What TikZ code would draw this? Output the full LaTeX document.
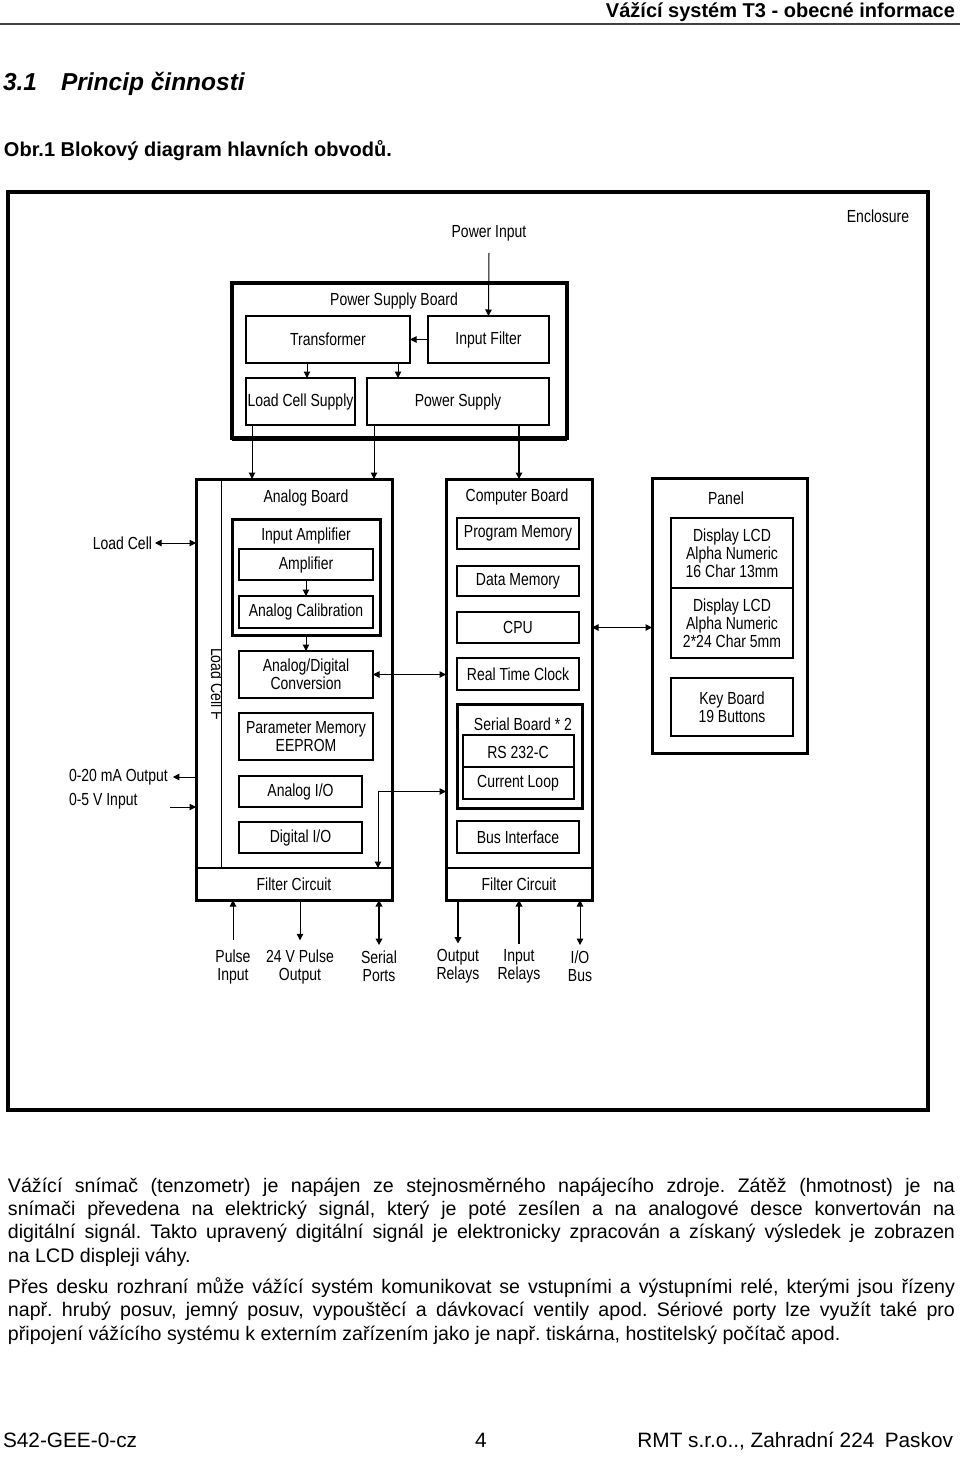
\documentclass[tikz,border=0pt]{standalone}
\usepackage{fontspec}
\setmainfont{Liberation Sans}
\newfontfamily\dfont[FakeStretch=0.8]{Liberation Sans}
\usetikzlibrary{arrows.meta}
\begin{document}
\begin{tikzpicture}[x=1pt,y=-1pt,
  every node/.style={inner sep=0pt, outer sep=0pt},
  dtext/.style={font=\dfont\fontsize{17.5}{18}\selectfont, align=center},
  box/.style n args={2}{draw, line width=1.6pt, minimum width=#1pt, minimum height=#2pt, dtext},
  bigbox/.style n args={2}{draw, line width=3pt, minimum width=#1pt, minimum height=#2pt},
  arr/.style={-{Triangle[length=6.5pt,width=6.5pt]}, line width=1pt},
  darr/.style={{Triangle[length=6.5pt,width=6.5pt]}-{Triangle[length=6.5pt,width=6.5pt]}, line width=1pt},
  bodyfont/.style={font=\fontsize{19.6}{23.4}\selectfont}
]
\useasboundingbox (0,0) rectangle (960,1457);
\fill[white] (0,0) rectangle (960,1457);

% ---------- page header ----------
\node[anchor=base east, font=\bfseries\fontsize{20}{24}\selectfont] (hdr) at (955,17) {Vážící systém T3 - obecné informace};
\draw[line width=2pt, black!75] (0,24) -- (960,24);
\node[anchor=base west, font=\bfseries\itshape\fontsize{24.5}{28}\selectfont] (secnum) at (3,90) {3.1};
\node[anchor=base west, font=\bfseries\itshape\fontsize{24.5}{28}\selectfont] (sectit) at (61,90) {Princip činnosti};
\node[anchor=base west, font=\bfseries\fontsize{20}{24}\selectfont] (figcap) at (4,156) {Obr.1 Blokový diagram hlavních obvodů.};

% ---------- enclosure ----------
\node[draw, line width=3.5pt, minimum width=920pt, minimum height=918pt] (encl) at (468,651) {};
\node[dtext] (encll) at (878,216) {Enclosure};
\node[dtext] (pin) at (489,233) {Power Input};

% ---------- power supply board ----------
\node[draw, line width=3.5pt, minimum width=335pt, minimum height=155pt] (psb) at (399.5,360.5) {};
\draw[line width=2pt] ([yshift=-1.5pt]psb.south west) -- ([yshift=-1.5pt]psb.south east);
\node[dtext] (psbl) at (394,301) {Power Supply Board};
\node[box={164}{47}] (trans) at (328,339.5) {Transformer};
\node[box={121}{47}] (inf) at (488.5,339.5) {Input Filter};
\node[box={109}{47}] (lcs) at (300.5,401.5) {Load Cell Supply};
\node[box={182}{47}] (ps) at (458,401.5) {Power Supply};

% ---------- analog board ----------
\node[bigbox={196}{421}] (ab) at (294,689.5) {};
\node[dtext] (abl) at (306,498) {Analog Board};
\node[dtext, minimum width=196pt, minimum height=32pt] (afc) at (294,884) {Filter Circuit};
\draw[line width=1.2pt] (afc.north west) -- (afc.north east);
\draw[line width=1pt] ([xshift=25pt]ab.north west) -- ([xshift=25pt]afc.north west);
\begin{scope}
  \clip (197,630) rectangle (221,740);
  \node[dtext, rotate=-90, anchor=south] (lcf) at (211,684) {Load Cell F};
\end{scope}
\node[bigbox={148}{116}] (inamp) at (306,577) {};
\node[dtext] (inampl) at (306,536) {Input Amplifier};
\node[box={134}{31}] (amp) at (306,564.5) {Amplifier};
\node[box={134}{32}] (acal) at (306,612) {Analog Calibration};
\node[box={134}{47}] (adc) at (306,674.5) {Analog/Digital\\Conversion};
\node[box={134}{47}] (pmem) at (306,736.5) {Parameter Memory\\EEPROM};
\node[box={123}{31}] (aio) at (300.5,791.5) {Analog I/O};
\node[box={123}{31}] (dio) at (300.5,837.5) {Digital I/O};

% ---------- computer board ----------
\node[bigbox={146}{421}] (cb) at (519,689.5) {};
\node[dtext] (cbl) at (517,497) {Computer Board};
\node[box={122}{31}] (prog) at (518,533.5) {Program Memory};
\node[box={122}{30}] (dmem) at (518,581) {Data Memory};
\node[box={122}{31}] (cpu) at (518,627.5) {CPU};
\node[box={122}{32}] (rtc) at (518,674) {Real Time Clock};
\node[bigbox={125}{104}] (serb) at (519.5,756) {};
\node[dtext] (serbl) at (523,724) {Serial Board * 2};
\node[draw, line width=1.6pt, minimum width=111pt, minimum height=64pt] (rs) at (518.5,767) {};
\draw[line width=1.4pt] (rs.west) -- (rs.east);
\node[dtext] (rsl) at (518,752) {RS 232-C};
\node[dtext] (cll) at (518,783) {Current Loop};
\node[box={122}{32}] (bus) at (518,837) {Bus Interface};
\node[dtext, minimum width=146pt, minimum height=32pt] (cfc) at (519,884) {Filter Circuit};
\draw[line width=1.2pt] (cfc.north west) -- (cfc.north east);

% ---------- panel ----------
\node[bigbox={155}{275}] (pn) at (729.5,615.5) {};
\node[dtext] (pnl) at (726,498) {Panel};
\node[box={122}{70}] (lcd1) at (732,553) {Display LCD\\Alpha Numeric\\16 Char 13mm};
\node[box={122}{70}] (lcd2) at (732,623) {Display LCD\\Alpha Numeric\\2*24 Char 5mm};
\node[box={122}{58}] (kb) at (732,707) {Key Board\\19 Buttons};

% ---------- side labels ----------
\node[dtext, anchor=east] (lc) at (152,543) {Load Cell};
\node[dtext, anchor=west] (ma) at (69,777) {0-20 mA Output};
\node[dtext, anchor=west] (vin) at (69,801) {0-5 V Input};
\node[dtext] (pi) at (233,966.5) {Pulse\\Input};
\node[dtext] (po) at (300,966.5) {24 V Pulse\\Output};
\node[dtext] (sp) at (379,966.5) {Serial\\Ports};
\node[dtext] (orl) at (458,966.5) {Output\\Relays};
\node[dtext] (irl) at (519,966.5) {Input\\Relays};
\node[dtext] (iob) at (580,966.5) {I/O\\Bus};

% ---------- connectors ----------
\draw[arr] ([yshift=-12pt]pin.south) -- (inf.north);
\draw[arr] (inf.west) -- (trans.east);
\draw[arr] ([xshift=6.5pt]lcs.north |- trans.south) -- ([xshift=6.5pt]lcs.north);
\draw[arr] ([xshift=70pt]trans.south) -- ([xshift=70pt]trans.south |- ps.north);
\draw[arr] ([xshift=6pt]lcs.south west) -- ([xshift=6pt]lcs.south west |- ab.north);
\draw[arr] ([xshift=7pt]ps.south west) -- ([xshift=7pt]ps.south west |- ab.north);
\draw[arr, line width=2pt] (ps.south -| cb.north) -- (cb.north);

\draw[darr] ([xshift=3pt]lc.east) -- (lc.east -| ab.west);
\draw[arr] (ma.east -| ab.west) -- ([xshift=5pt]ma.east);
\draw[arr] ([xshift=33pt,yshift=-6pt]vin.east) -- ([yshift=-6pt]vin.east -| ab.west);
\draw[arr] (amp) -- (acal);
\draw[arr] (inamp.south) -- (adc.north);
\draw[darr] (adc.east) -- (adc.east -| cb.west);
\draw[darr] ([xshift=-14pt]afc.north east) |- (cb.west |- aio);
\draw[darr] (cb.east |- cpu) -- (pn.west |- cpu);

\draw[arr] ([yshift=9pt]pi.north) -- (pi.north |- ab.south);
\draw[arr] (po.north |- ab.south) -- ([yshift=9pt]po.north);
\draw[darr, line width=2pt] (sp.north |- ab.south) -- ([yshift=6pt]sp.north);
\draw[arr, line width=2pt] (orl.north |- cb.south) -- ([yshift=6pt]orl.north);
\draw[arr, line width=2pt] ([yshift=6pt]irl.north) -- (irl.north |- cb.south);
\draw[darr] (iob.north |- cb.south) -- ([yshift=6pt]iob.north);

% ---------- body text ----------
\node[anchor=base west, bodyfont] (body) at (8,1192) {\parbox[t]{947pt}{\frenchspacing\setlength{\parskip}{7.6pt}\setlength{\parindent}{0pt}%
Vážící snímač (tenzometr) je napájen ze stejnosměrného napájecího zdroje. Zátěž (hmotnost) je na\linebreak
snímači převedena na elektrický signál, který je poté zesílen a na analogové desce konvertován na\linebreak
digitální signál. Takto upravený digitální signál je elektronicky zpracován a získaný výsledek je zobrazen\linebreak
na LCD displeji váhy.\par
Přes desku rozhraní může vážící systém komunikovat se vstupními a výstupními relé, kterými jsou řízeny\linebreak
např. hrubý posuv, jemný posuv, vypouštěcí a dávkovací ventily apod. Sériové porty lze využít také pro\linebreak
připojení vážícího systému k externím zařízením jako je např. tiskárna, hostitelský počítač apod.}};

% ---------- footer ----------
\node[anchor=base west, font=\fontsize{20.8}{24}\selectfont] (f1) at (3,1447) {S42-GEE-0-cz};
\node[anchor=base, font=\fontsize{20.8}{24}\selectfont] (f2) at (481,1447) {4};
\node[anchor=base east, font=\fontsize{20.8}{24}\selectfont] (f3) at (953,1447) {RMT s.r.o.., Zahradní 224\hspace{0.5em}Paskov};
\end{tikzpicture}
\end{document}
